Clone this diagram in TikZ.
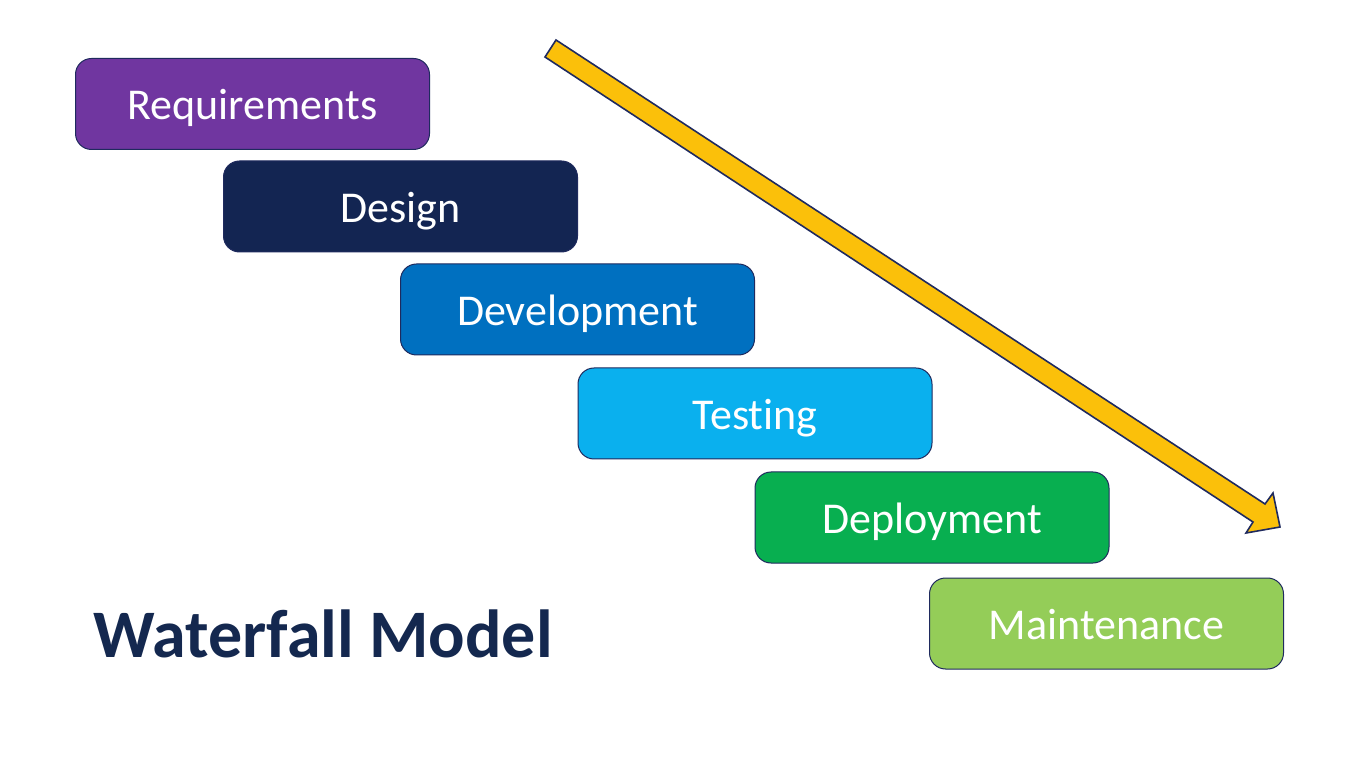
\documentclass[tikz,border=0pt]{standalone}
\usepackage{fontspec}
\setmainfont{Carlito}[Ligatures=NoCommon]
\definecolor{creq}{HTML}{7036A0}
\definecolor{cdes}{HTML}{132552}
\definecolor{cdev}{HTML}{0070C0}
\definecolor{ctest}{HTML}{0AB0EE}
\definecolor{cdep}{HTML}{08AF50}
\definecolor{cmain}{HTML}{94CD58}
\definecolor{cedge}{HTML}{1F2A5E}
\definecolor{carrow}{HTML}{FBC00A}
\definecolor{ctitle}{HTML}{14284F}
\begin{document}
\begin{tikzpicture}[x=0.5pt,y=-0.5pt,
  phase/.style={draw=cedge, line width=0.5pt, rounded corners=8pt,
    minimum width=177pt, minimum height=45.5pt, inner sep=0pt,
    text height=16pt, text depth=0pt,
    text=white, font=\fontsize{22}{26}\selectfont}]
\useasboundingbox (0,0) rectangle (1348,774);
\fill[white] (0,0) rectangle (1348,774);
\node[phase, fill=creq]  (req)  at (252.5,104)  {Requirements};
\node[phase, fill=cdes]  (des)  at (400.5,206.5) {Design};
\node[phase, fill=cdev]  (dev)  at (577.5,309.5) {Development};
\node[phase, fill=ctest] (test) at (755,413.5)  {Testing};
\node[phase, fill=cdep]  (dep)  at (932,517.5)  {Deployment};
\node[phase, fill=cmain] (main) at (1106.5,623.5) {Maintenance};
\draw[draw=cedge, fill=carrow, line width=0.8pt, line join=miter]
  (556,40) -- (1265,504) -- (1273,493) -- (1280,527) -- (1246,533)
  -- (1253,522) -- (545,57) -- cycle;
\node[text=ctitle, font=\fontsize{34}{40}\selectfont\bfseries, anchor=base west, inner sep=0pt]
  (title) at (93,657) {Waterfall Model};
\end{tikzpicture}
\end{document}
